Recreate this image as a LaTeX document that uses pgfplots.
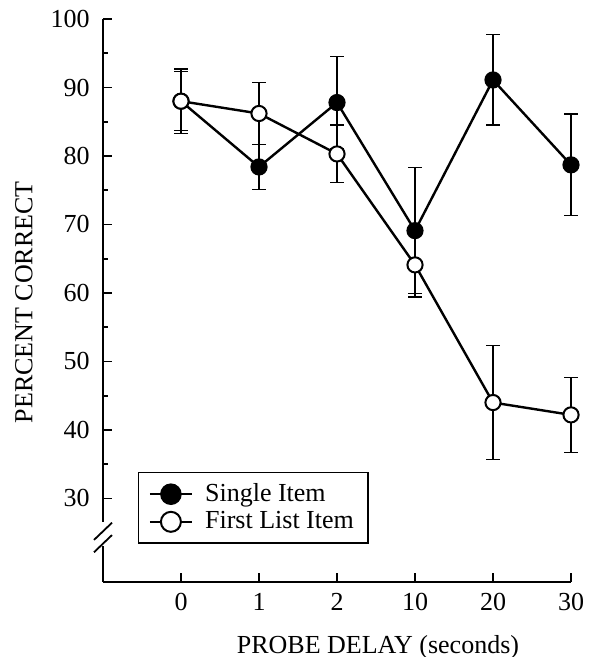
\documentclass[border=0pt]{standalone}
\usepackage{fontspec}
\setmainfont{Liberation Serif}
\usepackage{pgfplots}
\usepackage{pgfplotstable}
\pgfplotsset{compat=1.18}

% delay index, percent correct, error
\pgfplotstableread{
x y err
0 88.0 4.3
1 78.4 3.3
2 87.8 6.7
3 69.1 9.2
4 91.1 6.6
5 78.7 7.4
}\single
\pgfplotstableread{
x y err
0 88.0 4.7
1 86.2 4.5
2 80.3 4.2
3 64.1 4.7
4 44.0 8.3
5 42.2 5.5
}\firstlist

\begin{document}
\begin{tikzpicture}
\begin{axis}[
  scale only axis,
  width=234pt, height=281.5pt,
  xmin=-1, xmax=5, ymin=17.8, ymax=100,
  clip=false,
  font=\fontsize{13}{15.6}\selectfont,
  /pgf/number format/assume math mode=true,
  axis x line*=bottom, axis y line*=left,
  x axis line style={-, line width=0.9pt},
  y axis line style={draw=none},
  tick align=inside,
  major tick length=4.5pt, minor tick length=2.5pt,
  tick style={black, line width=0.9pt},
  xtick={0,1,2,3,4,5},
  xticklabels={0,1,2,10,20,30},
  ytick={30,40,50,60,70,80,90,100},
  minor ytick={35,45,55,65,75,85,95},
  yticklabel style={anchor=east, inner sep=0pt, xshift=-6.5pt},
  xticklabel style={anchor=base, inner sep=0pt, yshift=-14.5pt},
  xlabel={PROBE DELAY (seconds)},
  ylabel={PERCENT CORRECT},
  xlabel style={at={(rel axis cs:0.5876,0)}, anchor=base, inner sep=0pt, yshift=-35.5pt},
  ylabel style={at={([xshift=-39.5pt]rel axis cs:0,0.497)}, anchor=center, inner sep=0pt},
  every axis plot/.append style={line width=1.2pt},
  error bars/error bar style={line width=0.7pt},
  error bars/error mark options={rotate=90, mark size=3.3pt, line width=0.7pt},
  legend image code/.code={
    \draw[mark repeat=2, mark phase=2, #1, mark size=5pt]
      plot coordinates {(0pt,0pt) (10.5pt,0pt) (21pt,0pt)};
  },
  legend style={at={(rel axis cs:0.0748,0.1954)}, anchor=north west,
    draw=black, line width=0.7pt, inner xsep=5pt, inner ysep=3.5pt,
    font=\fontsize{13}{14}\selectfont, row sep=-0.5pt,
    /tikz/every odd column/.append style={column sep=4pt}},
  legend cell align=left,
]
\addplot[black, mark=*, mark size=3.9pt, mark options={solid, fill=black, line width=0.8pt},
  error bars/.cd, y dir=both, y explicit]
  table[x=x, y=y, y error=err] {\single};
\addlegendentry{Single Item}
\addplot[black, mark=*, mark size=3.8pt, mark options={solid, fill=white, line width=1pt},
  error bars/.cd, y dir=both, y explicit]
  table[x=x, y=y, y error=err] {\firstlist};
\addlegendentry{First List Item}

% y axis line with break
\draw[line width=0.9pt] (axis cs:-1,100) -- (axis cs:-1,26.6);
\draw[line width=0.9pt] (axis cs:-1,23.0) -- (axis cs:-1,17.8);
\draw[line width=0.9pt] ([shift={(-4.5pt,-4.3pt)}]axis cs:-1,25.2) -- ([shift={(4.5pt,4.3pt)}]axis cs:-1,25.2);
\draw[line width=0.9pt] ([shift={(-4.5pt,-4.3pt)}]axis cs:-1,23.4) -- ([shift={(4.5pt,4.3pt)}]axis cs:-1,23.4);
\coordinate (O) at (rel axis cs:0,0);
\end{axis}
\pgfresetboundingbox
\path[use as bounding box] (O) ++(-51.5pt,-37.5pt) rectangle ++(299.5pt,328.5pt);
\end{tikzpicture}
\end{document}
